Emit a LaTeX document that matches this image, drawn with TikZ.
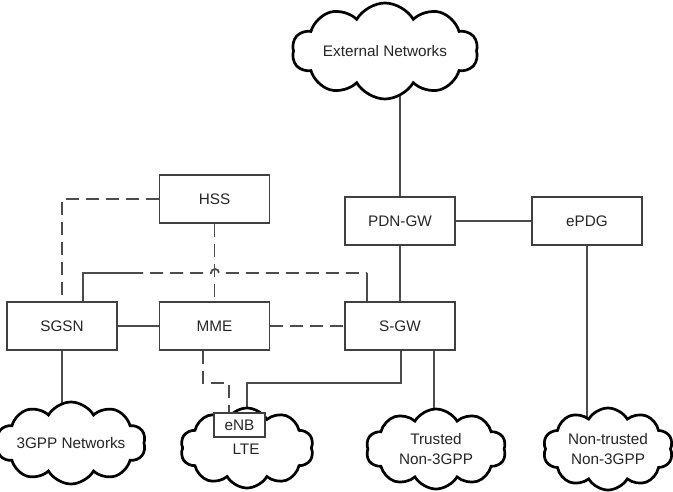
\documentclass[tikz,border=0pt]{standalone}
\usepackage{fontspec}
\setmainfont{Liberation Sans}
\usetikzlibrary{shapes.symbols,backgrounds}
\begin{document}
\begin{tikzpicture}[x=1pt,y=-1pt,
  box/.style={draw=black!75,line width=1.7pt,fill=white,minimum width=110pt,minimum height=48pt,inner sep=0pt,font=\fontsize{15.3}{20}\selectfont,text=black!85},
  smallbox/.style={box,minimum width=51pt,minimum height=24pt},
  netcloud/.style={cloud,cloud puffs=10,cloud puff arc=120,cloud ignores aspect,draw=black,line width=2.7pt,fill=white,inner sep=0pt,align=center,font=\fontsize{15.3}{20}\selectfont,text=black!85},
  lbl/.style={inner sep=0pt,font=\fontsize{15.3}{20}\selectfont,text=black!85},
  link/.style={draw=black!70,line width=1.8pt},
  dlink/.style={link,dash pattern=on 13pt off 7pt}]
\useasboundingbox (0,0) rectangle (673,492);
% boxes
\node[box] (hss) at (214.5,199) {HSS};
\node[box] (pdn) at (400,221) {PDN-GW};
\node[box] (epdg) at (587,221) {ePDG};
\node[box] (sgsn) at (62,326) {SGSN};
\node[box] (mme) at (214.5,326) {MME};
\node[box] (sgw) at (400,326) {S-GW};
% clouds
\node[netcloud,minimum width=186pt,minimum height=96pt] (ext) at (385,51) {External Networks};
\node[netcloud,minimum width=133pt,minimum height=82pt] (g3) at (71,443) {3GPP Networks};
\node[netcloud,minimum width=133pt,minimum height=80pt] (lte) at (247,448) {};
\node[lbl] (ltetext) at (246,449) {LTE};
\node[netcloud,minimum width=140pt,minimum height=80pt] (trusted) at (436,449) {Trusted\\Non-3GPP};
\node[netcloud,minimum width=130pt,minimum height=82pt] (nt) at (608,449) {Non-trusted\\Non-3GPP};
\node[smallbox] (enb) at (239.5,425) {eNB};
% junction coordinates
\coordinate (c1) at (130,273);
\coordinate (c2) at (367,273);
\coordinate (h1) at (211,273);
\begin{pgfonlayer}{background}
  \draw[link] (pdn.north) -- (pdn.north |- ext.center);
  \draw[link] (pdn.south) -- (sgw.north);
  \draw[link] (pdn.east) -- (epdg.west);
  \draw[link] (epdg.south) -- (epdg.south |- nt.center);
  \draw[link] (sgsn.south) -- (sgsn.south |- g3.center);
  \draw[link] (sgsn.east) -- (mme.west);
  \draw[dlink] (mme.east) -- (sgw.west);
  \draw[dlink] (hss.west) -| (sgsn.north);
  \draw[dlink] (hss.south) -- (mme.north);
  \draw[link] ([xshift=21pt]sgsn.north) |- (c1);
  \draw[dlink] (c1) -- (h1) arc (180:360:4) -- (c2);
  \draw[link] (c2) -- ([xshift=-33pt]sgw.north);
  \draw[dlink] ([xshift=-11.5pt]mme.south) -- ++(0,32) -| ([xshift=-10.5pt]enb.north);
  \draw[link] ([xshift=1pt]sgw.south) -- ++(0,32) -| ([xshift=7.5pt]enb.north);
  \draw[link] ([xshift=34pt]sgw.south) -- ([xshift=34pt]sgw.south |- trusted.center);
\end{pgfonlayer}
\end{tikzpicture}
\end{document}
